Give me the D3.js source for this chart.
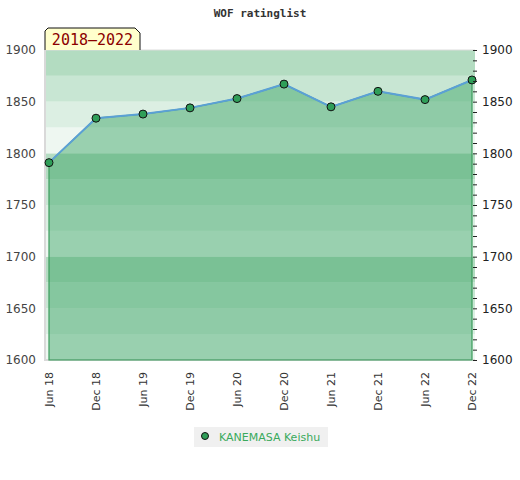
<!DOCTYPE html>
<html>
<head>
<meta charset="utf-8">
<script src="https://cdn.jsdelivr.net/npm/d3@7"></script>
<style>
  body { margin: 0; background: #fff; }
</style>
</head>
<body>
<div id="chart"></div>
<script>
const periods = ["Jun 18", "Dec 18", "Jun 19", "Dec 19", "Jun 20", "Dec 20", "Jun 21", "Dec 21", "Jun 22", "Dec 22"];
const ratings = [1791, 1834, 1838, 1844, 1853, 1867, 1845, 1860, 1852, 1871];
const yTicks = [1600, 1650, 1700, 1750, 1800, 1850, 1900];
const bandColors = ["#b3dcc1", "#c8e6d3", "#dcefe3", "#eef7f1"];
const playerName = "KANEMASA Keishu";
const rangeLabel = "2018\u20132022";
const chartTitle = "WOF ratinglist";

function drawChart() {
  const container = d3.select("#chart");
  container.selectAll("*").remove();

  const width = 520;
  const height = 480;
  const plot = { left: 45, right: 475, top: 50, bottom: 360 };

  const svg = container.append("svg")
    .attr("width", width)
    .attr("height", height)
    .style("font-family", "DejaVu Sans, sans-serif");

  const x = d3.scalePoint()
    .domain(periods)
    .range([49, 472]);

  const y = d3.scaleLinear()
    .domain([1600, 1900])
    .range([plot.bottom, plot.top]);

  // background bands, 25 points each
  const bands = d3.range(1600, 1900, 25);
  svg.append("g")
    .selectAll("rect")
    .data(bands)
    .join("rect")
    .attr("x", plot.left)
    .attr("width", plot.right - plot.left)
    .attr("y", d => y(d + 25))
    .attr("height", d => y(d) - y(d + 25))
    .attr("fill", d => bandColors[3 - ((d - 1600) / 25) % 4]);

  // plot frame
  svg.append("path")
    .attr("d", `M${plot.left},${plot.top}V${plot.bottom}H${plot.right}`)
    .attr("fill", "none")
    .attr("stroke", "#d9d9d9")
    .attr("stroke-width", 2);
  svg.append("line")
    .attr("x1", plot.left).attr("x2", plot.right)
    .attr("y1", plot.top).attr("y2", plot.top)
    .attr("stroke", "#dcdcdc");

  const area = d3.area()
    .x((d, i) => x(periods[i]))
    .y0(y(1600))
    .y1(d => y(d));

  svg.append("path")
    .datum(ratings)
    .attr("d", area)
    .attr("fill", "rgb(57,164,99)")
    .attr("fill-opacity", 0.47)
    .attr("stroke", "#3b9c5c")
    .attr("stroke-width", 1.2);

  const line = d3.line()
    .x((d, i) => x(periods[i]))
    .y(d => y(d));

  svg.append("path")
    .datum(ratings)
    .attr("d", line)
    .attr("fill", "none")
    .attr("stroke", "#5ba0d6")
    .attr("stroke-width", 2);

  svg.append("g")
    .selectAll("circle")
    .data(ratings)
    .join("circle")
    .attr("cx", (d, i) => x(periods[i]))
    .attr("cy", d => y(d))
    .attr("r", 4)
    .attr("fill", "#2f9e58")
    .attr("stroke", "#111")
    .attr("stroke-width", 1);

  // left axis labels
  const left = svg.append("g")
    .attr("transform", `translate(${plot.left},0)`)
    .call(d3.axisLeft(y).tickValues(yTicks).tickSize(0).tickPadding(9).tickFormat(d3.format("d")));
  left.select(".domain").remove();
  left.selectAll("text")
    .attr("font-size", 12)
    .attr("fill", "#444")
    .style("font-family", "DejaVu Sans");

  // right axis with minor ticks
  const right = svg.append("g")
    .attr("transform", `translate(473,0)`)
    .call(d3.axisRight(y).ticks(30).tickSize(4).tickFormat(""));
  right.select(".domain").remove();
  right.selectAll("line").attr("stroke", "#222");

  const rightLabels = svg.append("g")
    .attr("transform", `translate(473,0)`)
    .call(d3.axisRight(y).tickValues(yTicks).tickSize(0).tickPadding(9).tickFormat(d3.format("d")));
  rightLabels.select(".domain").remove();
  rightLabels.selectAll("text")
    .attr("font-size", 12)
    .attr("fill", "#222")
    .style("font-family", "DejaVu Sans");

  // bottom axis, rotated labels
  const bottom = svg.append("g")
    .attr("transform", `translate(0,${plot.bottom})`)
    .call(d3.axisBottom(x).tickSize(0));
  bottom.select(".domain").remove();
  bottom.selectAll("text")
    .attr("font-size", 11)
    .attr("fill", "#333")
    .style("font-family", "DejaVu Sans")
    .attr("text-anchor", "end")
    .attr("dy", "0.35em")
    .attr("transform", "translate(0,12) rotate(-90)")
    .attr("x", 0)
    .attr("y", 0);

  // title
  svg.append("text")
    .attr("x", 260)
    .attr("y", 17)
    .attr("text-anchor", "middle")
    .style("font-family", "DejaVu Sans Mono")
    .attr("font-weight", "bold")
    .attr("font-size", 11)
    .attr("fill", "#333")
    .text(chartTitle);

  // range label box
  const bx0 = 45, bx1 = 140, by0 = 28, by1 = 50;
  svg.append("path")
    .attr("d", `M${bx0},${by1}V${by0 + 3}L${bx0 + 3},${by0}H${bx1 - 5}L${bx1},${by0 + 5}V${by1}`)
    .attr("fill", "#ffffcc")
    .attr("stroke", "#111")
    .attr("stroke-width", 1);
  svg.append("text")
    .attr("x", (bx0 + bx1) / 2)
    .attr("y", 45)
    .attr("text-anchor", "middle")
    .style("font-family", "DejaVu Sans Mono")
    .attr("font-size", 15)
    .attr("fill", "#8b0000")
    .text(rangeLabel);

  // legend
  const legend = svg.append("g").attr("transform", "translate(194,427)");
  legend.append("rect")
    .attr("width", 134)
    .attr("height", 20)
    .attr("fill", "#f0f0f0");
  legend.append("circle")
    .attr("cx", 11)
    .attr("cy", 9)
    .attr("r", 3.5)
    .attr("fill", "#2f9e58")
    .attr("stroke", "#111");
  legend.append("text")
    .attr("x", 25)
    .attr("y", 14)
    .attr("font-size", 11)
    .attr("fill", "#3aaa5c")
    .text(playerName);
}

drawChart();
</script>
</body>
</html>
